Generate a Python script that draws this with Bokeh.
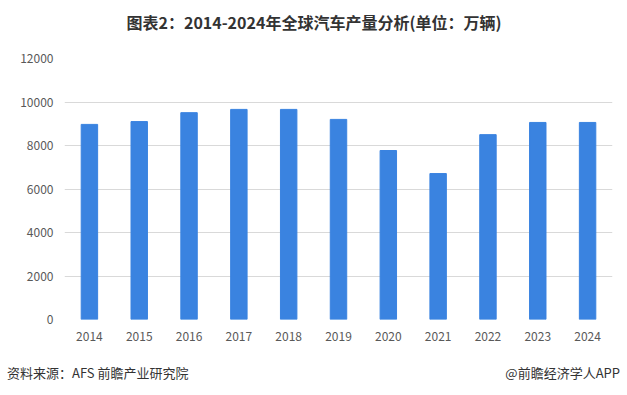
from bokeh.plotting import figure
from bokeh.models import FixedTicker, Range1d, Div
from bokeh.layouts import column
from bokeh.embed import file_html
from bokeh.resources import INLINE

years = ["2014", "2015", "2016", "2017", "2018", "2019", "2020", "2021", "2022", "2023", "2024"]
production = [8970, 9100, 9510, 9660, 9660, 9200, 7770, 6710, 8500, 9060, 9060]
y_ticks = [0, 2000, 4000, 6000, 8000, 10000, 12000]

title_text = "图表2：2014-2024年全球汽车产量分析(单位：万辆)"
source_text = "资料来源：AFS 前瞻产业研究院"
brand_text = "@前瞻经济学人APP"

FONT = "Noto Sans CJK SC"
W = 624
HEAD_H, MAIN_H, FOOT_H = 40, 315, 37

head = Div(width=W, height=HEAD_H, margin=0, text=(
    f'<div style="position:relative;width:{W}px;height:{HEAD_H}px;">'
    f'<div style="position:absolute;left:2px;top:12px;width:{W}px;text-align:center;'
    f'line-height:20px;font-family:\'{FONT}\';font-size:16px;font-weight:bold;color:#333333;'
    f'white-space:nowrap;">{title_text}</div></div>'))

p = figure(x_range=years, y_range=Range1d(0, 12000), width=W, height=MAIN_H,
           output_backend="svg", toolbar_location=None, margin=0,
           min_border_left=64, min_border_right=12, min_border_top=18, min_border_bottom=36)
p.vbar(x=years, top=production, width=0.33, color="#3a83e0")
p.outline_line_color = None
p.xgrid.grid_line_color = None
p.ygrid.grid_line_color = "#d9d9d9"
p.ygrid.grid_line_width = 1
p.yaxis.ticker = FixedTicker(ticks=y_ticks)
for ax in (p.xaxis, p.yaxis):
    ax.axis_line_color = None
    ax.major_tick_line_color = None
    ax.minor_tick_line_color = None
    ax.major_tick_out = 0
    ax.major_tick_in = 0
    ax.minor_tick_out = 0
    ax.major_label_text_font = FONT
    ax.major_label_text_font_size = "12px"
    ax.major_label_text_color = "#595959"
p.yaxis.major_label_standoff = 11
p.xaxis.major_label_standoff = 12

span_style = (f"position:absolute;top:8px;line-height:20px;font-family:'{FONT}';"
              "font-size:13px;color:#333333;white-space:nowrap;")
foot = Div(width=W, height=FOOT_H, margin=0, text=(
    f'<div style="position:relative;width:{W}px;height:{FOOT_H}px;">'
    f'<span style="{span_style}left:7px;">{source_text}</span>'
    f'<span style="{span_style}right:4px;">{brand_text}</span></div>'))

layout = column(head, p, foot, spacing=0)
open("out.html", "w").write(file_html(layout, INLINE))
